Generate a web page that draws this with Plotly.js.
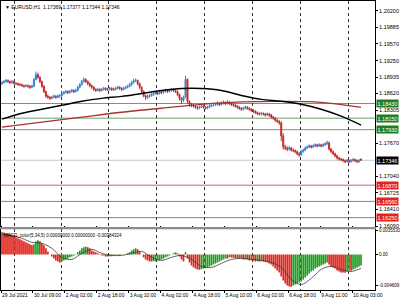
<!DOCTYPE html>
<html>
<head>
<meta charset="utf-8">
<script src="https://cdn.plot.ly/plotly-3.0.1.min.js"></script>
<style>html,body{margin:0;padding:0;background:#fff;}#chart{width:400px;height:300px;}</style>
</head>
<body>
<div id="chart"></div>
<script>
// ---- EURUSD H1 candles (29 Jul 2021 17:00 .. 10 Aug 2021) ----
const openP = [
1.1881,1.1883,1.1885,1.1887,1.1885,1.1883,1.1885,1.1881,1.1881,1.1879,
1.1879,1.1877,1.1876,1.1877,1.1876,1.1874,1.1876,1.1889,1.1898,1.1893,
1.1885,1.1876,1.1866,1.1857,1.1855,1.1853,1.1855,1.1857,1.1855,1.1857,
1.1858,1.1862,1.1864,1.1866,1.1864,1.1866,1.1868,1.1866,1.1868,1.1874,
1.1879,1.1885,1.1889,1.1885,1.1881,1.1877,1.1874,1.1870,1.1868,1.1870,
1.1868,1.1870,1.1872,1.1870,1.1870,1.1872,1.1870,1.1870,1.1872,1.1874,
1.1872,1.1870,1.1872,1.1874,1.1876,1.1879,1.1883,1.1887,1.1887,1.1881,
1.1874,1.1866,1.1858,1.1855,1.1857,1.1858,1.1860,1.1862,1.1864,1.1862,
1.1866,1.1864,1.1866,1.1868,1.1866,1.1868,1.1870,1.1868,1.1866,1.1860,
1.1853,1.1849,1.1855,1.1889,1.1847,1.1841,1.1840,1.1838,1.1836,1.1834,
1.1836,1.1838,1.1836,1.1834,1.1836,1.1838,1.1840,1.1840,1.1841,1.1843,
1.1841,1.1843,1.1845,1.1843,1.1845,1.1843,1.1841,1.1840,1.1838,1.1836,
1.1834,1.1832,1.1834,1.1836,1.1834,1.1832,1.1830,1.1828,1.1826,1.1824,
1.1823,1.1824,1.1823,1.1821,1.1823,1.1821,1.1817,1.1815,1.1811,1.1809,
1.1806,1.1781,1.1760,1.1758,1.1756,1.1758,1.1754,1.1753,1.1751,1.1747,
1.1745,1.1751,1.1754,1.1758,1.1760,1.1762,1.1760,1.1762,1.1764,1.1762,
1.1764,1.1762,1.1764,1.1766,1.1768,1.1756,1.1751,1.1747,1.1743,1.1739,
1.1737,1.1736,1.1734,1.1732,1.1734,1.1732,1.1734,1.1736,1.1734,1.1732,1.17369];
const highP = [
1.1886,1.1888,1.1890,1.1889,1.1887,1.1888,1.1887,1.1884,1.1883,1.1882,
1.1881,1.1879,1.1880,1.1879,1.1878,1.1879,1.1892,1.1904,1.1902,1.1895,
1.1887,1.1878,1.1868,1.1860,1.1857,1.1858,1.1860,1.1859,1.1860,1.1861,
1.1865,1.1867,1.1869,1.1868,1.1869,1.1871,1.1870,1.1871,1.1877,1.1882,
1.1888,1.1893,1.1891,1.1887,1.1883,1.1879,1.1876,1.1872,1.1873,1.1872,
1.1873,1.1875,1.1874,1.1873,1.1875,1.1874,1.1873,1.1875,1.1877,1.1876,
1.1874,1.1875,1.1877,1.1879,1.1882,1.1886,1.1890,1.1891,1.1889,1.1883,
1.1876,1.1868,1.1860,1.1860,1.1861,1.1863,1.1865,1.1867,1.1866,1.1869,
1.1868,1.1869,1.1871,1.1870,1.1871,1.1873,1.1872,1.1870,1.1868,1.1862,
1.1855,1.1858,1.1896,1.1891,1.1849,1.1844,1.1842,1.1840,1.1838,1.1839,
1.1841,1.1840,1.1838,1.1839,1.1841,1.1843,1.1843,1.1844,1.1847,1.1845,
1.1847,1.1849,1.1847,1.1850,1.1848,1.1845,1.1843,1.1842,1.1840,1.1838,
1.1836,1.1837,1.1839,1.1838,1.1836,1.1834,1.1832,1.1830,1.1828,1.1826,
1.1827,1.1826,1.1825,1.1826,1.1825,1.1823,1.1819,1.1817,1.1813,1.1811,
1.1809,1.1786,1.1764,1.1761,1.1762,1.1760,1.1757,1.1755,1.1753,1.1750,
1.1754,1.1757,1.1761,1.1763,1.1765,1.1764,1.1765,1.1767,1.1766,1.1767,
1.1766,1.1767,1.1769,1.1772,1.1770,1.1758,1.1753,1.1749,1.1745,1.1741,
1.1739,1.1738,1.1736,1.1737,1.1736,1.1737,1.1739,1.1738,1.1736,1.1737,1.17377];
const lowP = [
1.1878,1.1881,1.1883,1.1882,1.1880,1.1881,1.1879,1.1878,1.1877,1.1876,
1.1875,1.1873,1.1874,1.1873,1.1871,1.1872,1.1874,1.1887,1.1890,1.1882,
1.1873,1.1863,1.1854,1.1852,1.1850,1.1851,1.1853,1.1852,1.1853,1.1854,
1.1856,1.1860,1.1862,1.1861,1.1862,1.1864,1.1863,1.1864,1.1866,1.1872,
1.1877,1.1883,1.1882,1.1878,1.1874,1.1871,1.1867,1.1865,1.1866,1.1865,
1.1866,1.1868,1.1867,1.1867,1.1868,1.1867,1.1867,1.1868,1.1870,1.1869,
1.1867,1.1868,1.1870,1.1872,1.1874,1.1877,1.1881,1.1884,1.1878,1.1871,
1.1863,1.1855,1.1850,1.1852,1.1854,1.1856,1.1858,1.1860,1.1859,1.1860,
1.1861,1.1862,1.1864,1.1863,1.1864,1.1866,1.1865,1.1863,1.1857,1.1849,
1.1842,1.1846,1.1853,1.1843,1.1837,1.1836,1.1835,1.1833,1.1831,1.1832,
1.1834,1.1833,1.1831,1.1832,1.1834,1.1836,1.1837,1.1838,1.1839,1.1838,
1.1839,1.1841,1.1840,1.1841,1.1840,1.1838,1.1837,1.1835,1.1833,1.1831,
1.1829,1.1830,1.1832,1.1831,1.1829,1.1827,1.1825,1.1823,1.1821,1.1820,
1.1820,1.1820,1.1818,1.1819,1.1818,1.1814,1.1812,1.1808,1.1806,1.1802,
1.1771,1.1755,1.1754,1.1752,1.1753,1.1751,1.1750,1.1748,1.1744,1.1741,
1.1743,1.1749,1.1752,1.1756,1.1758,1.1757,1.1758,1.1760,1.1759,1.1760,
1.1759,1.1760,1.1762,1.1764,1.1753,1.1748,1.1744,1.1740,1.1736,1.1734,
1.1733,1.1731,1.1729,1.1730,1.1729,1.1730,1.1732,1.1731,1.1729,1.1730,1.17344];
const closeP = [
1.1883,1.1885,1.1887,1.1885,1.1883,1.1885,1.1881,1.1881,1.1879,1.1879,
1.1877,1.1876,1.1877,1.1876,1.1874,1.1876,1.1889,1.1898,1.1893,1.1885,
1.1876,1.1866,1.1857,1.1855,1.1853,1.1855,1.1857,1.1855,1.1857,1.1858,
1.1862,1.1864,1.1866,1.1864,1.1866,1.1868,1.1866,1.1868,1.1874,1.1879,
1.1885,1.1889,1.1885,1.1881,1.1877,1.1874,1.1870,1.1868,1.1870,1.1868,
1.1870,1.1872,1.1870,1.1870,1.1872,1.1870,1.1870,1.1872,1.1874,1.1872,
1.1870,1.1872,1.1874,1.1876,1.1879,1.1883,1.1887,1.1887,1.1881,1.1874,
1.1866,1.1858,1.1855,1.1857,1.1858,1.1860,1.1862,1.1864,1.1862,1.1866,
1.1864,1.1866,1.1868,1.1866,1.1868,1.1870,1.1868,1.1866,1.1860,1.1853,
1.1849,1.1855,1.1889,1.1847,1.1841,1.1840,1.1838,1.1836,1.1834,1.1836,
1.1838,1.1836,1.1834,1.1836,1.1838,1.1840,1.1840,1.1841,1.1843,1.1841,
1.1843,1.1845,1.1843,1.1845,1.1843,1.1841,1.1840,1.1838,1.1836,1.1834,
1.1832,1.1834,1.1836,1.1834,1.1832,1.1830,1.1828,1.1826,1.1824,1.1823,
1.1824,1.1823,1.1821,1.1823,1.1821,1.1817,1.1815,1.1811,1.1809,1.1806,
1.1781,1.1760,1.1758,1.1756,1.1758,1.1754,1.1753,1.1751,1.1747,1.1745,
1.1751,1.1754,1.1758,1.1760,1.1762,1.1760,1.1762,1.1764,1.1762,1.1764,
1.1762,1.1764,1.1766,1.1768,1.1756,1.1751,1.1747,1.1743,1.1739,1.1737,
1.1736,1.1734,1.1732,1.1734,1.1732,1.1734,1.1736,1.1734,1.1732,1.1734,1.17346];

// ---- Moving averages (read at every 10th / 20th bar) ----
const maBlackIdx = [0,10,20,30,40,50,60,70,80,90,100,110,120,130,140,150,160,170,180];
const maBlack = [1.18131,1.18244,1.18320,1.18395,1.18471,1.18528,1.18566,1.18622,1.18679,1.18717,1.18717,1.18679,1.18584,1.18509,1.18471,1.18414,1.18320,1.18188,1.18017];
const maRedIdx = [0,20,40,60,80,100,120,140,160,180];
const maRed = [1.17980,1.18074,1.18169,1.18263,1.18339,1.18414,1.18460,1.18471,1.18452,1.18358];

// ---- Horizontal levels ----
const greenLevels = [1.18430, 1.18150, 1.17930];
const redLevels = [1.16870, 1.16560, 1.16250];

// ---- MACD_color(5,34,5) ----
const macd = [
0.00326,0.00324,0.00311,0.00309,0.00296,0.00281,0.00266,0.00252,0.00237,0.00222,
0.00207,0.00192,0.00178,0.00163,0.00148,0.00133,0.00148,0.00192,0.00207,0.00192,
0.00163,0.00133,0.00089,0.00044,-0.00003,-0.00030,-0.00059,-0.00089,-0.00104,-0.00118,
-0.00104,-0.00089,-0.00074,-0.00059,-0.00044,-0.00030,-0.00015,0.00003,0.00030,0.00059,
0.00089,0.00104,0.00118,0.00104,0.00089,0.00059,0.00044,0.00030,0.00015,0.00002,
-0.00015,-0.00016,-0.00030,-0.00031,-0.00029,-0.00027,-0.00016,-0.00013,-0.00011,-0.00012,
-0.00005,-0.00002,0.00003,0.00015,0.00030,0.00059,0.00074,0.00089,0.00074,0.00044,
0.00000,-0.00044,-0.00074,-0.00089,-0.00104,-0.00106,-0.00103,-0.00100,-0.00089,-0.00087,
-0.00074,-0.00059,-0.00044,-0.00030,-0.00015,-0.00003,0.00015,0.00030,0.00015,-0.00030,
-0.00074,-0.00104,0.00030,-0.00059,-0.00118,-0.00163,-0.00192,-0.00207,-0.00222,-0.00225,
-0.00220,-0.00207,-0.00205,-0.00192,-0.00178,-0.00163,-0.00148,-0.00133,-0.00118,-0.00104,
-0.00089,-0.00074,-0.00059,-0.00062,-0.00044,-0.00047,-0.00050,-0.00052,-0.00059,-0.00057,
-0.00062,-0.00074,-0.00072,-0.00076,-0.00089,-0.00087,-0.00091,-0.00104,-0.00101,-0.00106,
-0.00103,-0.00104,-0.00107,-0.00118,-0.00133,-0.00148,-0.00178,-0.00207,-0.00237,-0.00266,
-0.00326,-0.00385,-0.00429,-0.00459,-0.00474,-0.00476,-0.00459,-0.00444,-0.00429,-0.00414,
-0.00400,-0.00370,-0.00340,-0.00311,-0.00281,-0.00252,-0.00237,-0.00207,-0.00192,-0.00178,
-0.00163,-0.00148,-0.00133,-0.00118,-0.00148,-0.00178,-0.00192,-0.00207,-0.00237,-0.00252,
-0.00266,-0.00268,-0.00270,-0.00252,-0.00237,-0.00240,-0.00222,-0.00207,-0.00192,-0.00178,-0.00163];
const signalIdx = [0,5,10,15,20,25,30,35,40,45,50,55,60,65,70,75,80,85,90,95,100,105,110,115,120,125,130,135,140,145,150,155,160,165,170,175,180];
const signal = [0.00296,0.00281,0.00237,0.00178,0.00163,0.00089,-0.00044,-0.00074,0.00015,0.00074,0.00015,-0.00015,-0.00015,0.00015,0.00044,-0.00044,-0.00089,-0.00044,-0.00015,-0.00074,-0.00178,-0.00192,-0.00133,-0.00074,-0.00059,-0.00074,-0.00089,-0.00118,-0.00192,-0.00370,-0.00444,-0.00355,-0.00222,-0.00178,-0.00222,-0.00252,-0.00207];

// ---- Axis ticks ----
const priceTicks = [1.20200,1.19885,1.19570,1.19250,1.18935,1.18620,1.18305,1.17670,1.17040,1.16725,1.16410,1.16090];
const macdTicks = [0.003553, 0, -0.004609];
const macdTickText = ["0.0035530", "0.00", "-0.004609"];
const timeTickIdx = [-0.5,15.5,31.5,47.5,63.5,79.5,95.5,111.5,127.5,143.5,159.5,175.5];
const timeTickText = ["29 Jul 2021","30 Jul 09:00","2 Aug 02:00","2 Aug 18:00","3 Aug 10:00","4 Aug 02:00","4 Aug 18:00","5 Aug 10:00","6 Aug 02:00","6 Aug 18:00","9 Aug 11:00","10 Aug 03:00"];
const dayGridIdx = [6.5,30,53.5,77.5,101.5,125.5,149.5,173.5];

const idx = closeP.map((_, i) => i);
const last = closeP.length - 1;
const FONT = 'Liberation Sans, Arial, sans-serif';

const histColors = macd.map((v, i) => (i > 0 && v > macd[i - 1]) ? '#1f9e1f' : '#e5231b');

const traces = [
  {type: 'candlestick', x: idx, open: openP, high: highP, low: lowP, close: closeP,
   xaxis: 'x', yaxis: 'y', whiskerwidth: 0,
   increasing: {line: {color: '#2f86d6', width: 1}, fillcolor: '#2f86d6'},
   decreasing: {line: {color: '#c8282a', width: 1}, fillcolor: '#c8282a'},
   hoverinfo: 'skip', showlegend: false},
  {type: 'scatter', mode: 'lines', x: maRedIdx, y: maRed, xaxis: 'x', yaxis: 'y',
   line: {color: '#a8322d', width: 1.3, shape: 'spline'}, showlegend: false, hoverinfo: 'skip'},
  {type: 'scatter', mode: 'lines', x: maBlackIdx, y: maBlack, xaxis: 'x', yaxis: 'y',
   line: {color: '#000000', width: 1.5, shape: 'spline'}, showlegend: false, hoverinfo: 'skip'},
  {type: 'bar', x: idx, y: macd, xaxis: 'x', yaxis: 'y2',
   marker: {color: histColors, line: {width: 0}}, showlegend: false, hoverinfo: 'skip'},
  {type: 'scatter', mode: 'lines', x: signalIdx, y: signal, xaxis: 'x', yaxis: 'y2',
   line: {color: '#3a3a3a', width: 0.8, shape: 'spline'}, showlegend: false, hoverinfo: 'skip'}
];

const shapes = [];
const annotations = [];
const LBL = 5.5;
greenLevels.forEach(v => {
  shapes.push({type: 'line', xref: 'paper', yref: 'y', x0: 0, x1: 1, y0: v, y1: v,
               line: {color: '#6f9d6f', width: 1}, layer: 'below'});
  annotations.push({xref: 'paper', yref: 'y', x: 1, y: v, xanchor: 'left', yanchor: 'middle', xshift: 1,
                    text: v.toFixed(5), showarrow: false, bgcolor: '#1f7d1f', borderpad: 0.5,
                    font: {family: FONT, size: LBL, color: '#ffffff'}});
});
redLevels.forEach(v => {
  shapes.push({type: 'line', xref: 'paper', yref: 'y', x0: 0, x1: 1, y0: v, y1: v,
               line: {color: '#c46a6a', width: 1}, layer: 'below'});
  annotations.push({xref: 'paper', yref: 'y', x: 1, y: v, xanchor: 'left', yanchor: 'middle', xshift: 1,
                    text: v.toFixed(5), showarrow: false, bgcolor: '#e2231d', borderpad: 0.5,
                    font: {family: FONT, size: LBL, color: '#ffffff'}});
});
// current price line + label
shapes.push({type: 'line', xref: 'paper', yref: 'y', x0: 0, x1: 1, y0: closeP[last], y1: closeP[last],
             line: {color: '#c8c8c8', width: 1}, layer: 'below'});
annotations.push({xref: 'paper', yref: 'y', x: 1, y: closeP[last], xanchor: 'left', yanchor: 'middle', xshift: 1,
                  text: closeP[last].toFixed(5), showarrow: false, bgcolor: '#000000', borderpad: 0.5,
                  font: {family: FONT, size: LBL, color: '#ffffff'}});
// splitter between panels
shapes.push({type: 'rect', xref: 'paper', yref: 'paper', x0: -0.005, x1: 1.003, y0: 0.2357, y1: 0.2433,
             fillcolor: '#8c8c8c', line: {width: 0}});
// header texts
annotations.push({xref: 'paper', yref: 'paper', x: 0, y: 0.9967, xanchor: 'left', yanchor: 'top', xshift: 2, yshift: -1,
                  text: '\u25BC EURUSD,H1  ' + openP[last].toFixed(5) + ' ' + highP[last].toFixed(5) + ' ' + lowP[last].toFixed(5) + ' ' + closeP[last].toFixed(5),
                  showarrow: false, font: {family: FONT, size: 5, color: '#000'}});
annotations.push({xref: 'paper', yref: 'paper', x: 0, y: 0.235, xanchor: 'left', yanchor: 'top', xshift: 1, yshift: -1,
                  text: 'MACD_color(5,34,5) 0.00000000 0.00000000 -0.00384324',
                  showarrow: false, font: {family: FONT, size: 4.5, color: '#000'}});

const layout = {
  width: 400, height: 300,
  margin: {l: 1, r: 25, t: 0, b: 0},
  paper_bgcolor: '#ffffff', plot_bgcolor: '#ffffff',
  font: {family: FONT, color: '#000'},
  showlegend: false,
  bargap: 0.15,
  xaxis: {
    domain: [0, 1], range: [-0.5, 187], anchor: 'y2',
    tickmode: 'array', tickvals: timeTickIdx, ticktext: timeTickText,
    ticks: 'outside', ticklen: 2, tickcolor: '#000', ticklabelposition: 'outside right',
    tickangle: 0, automargin: false,
    tickfont: {family: FONT, size: 5, color: '#000'},
    showgrid: false, zeroline: false,
    showline: true, linecolor: '#000', linewidth: 1, mirror: 'all',
    minor: {tickmode: 'array', tickvals: dayGridIdx, showgrid: true, griddash: 'dot', gridcolor: '#333', gridwidth: 1, ticks: ''},
    rangeslider: {visible: false}, fixedrange: true
  },
  yaxis: {
    domain: [0.2433, 0.9967], range: [1.16071, 1.20388], side: 'right', anchor: 'x',
    tickmode: 'array', tickvals: priceTicks, ticktext: priceTicks.map(v => v.toFixed(5)),
    ticks: 'outside', ticklen: 2, tickcolor: '#000', automargin: false,
    tickfont: {family: FONT, size: LBL, color: '#000'},
    showgrid: false, zeroline: false,
    showline: true, linecolor: '#000', linewidth: 1, mirror: 'all', fixedrange: true
  },
  yaxis2: {
    domain: [0.0333, 0.2357], range: [-0.005254, 0.0037], side: 'right', anchor: 'x',
    tickmode: 'array', tickvals: macdTicks, ticktext: macdTickText,
    ticks: 'outside', ticklen: 2, tickcolor: '#000', automargin: false,
    tickfont: {family: FONT, size: 4.5, color: '#000'},
    showgrid: false, zeroline: false,
    showline: true, linecolor: '#000', linewidth: 1, mirror: 'all', fixedrange: true
  },
  shapes: shapes,
  annotations: annotations
};

Plotly.newPlot('chart', traces, layout, {staticPlot: true, displayModeBar: false});
</script>
</body>
</html>
